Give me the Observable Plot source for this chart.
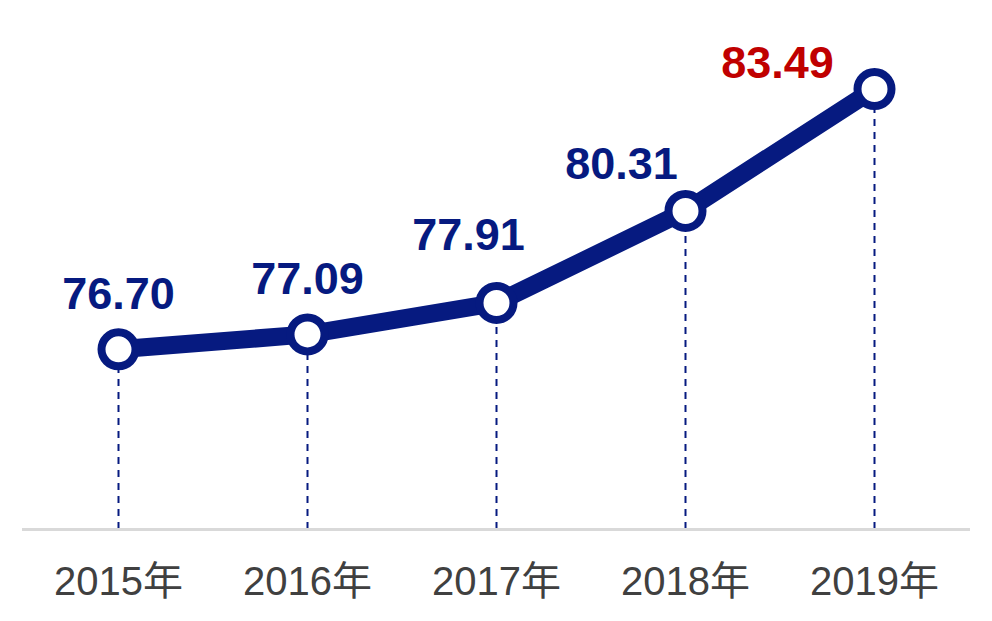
<!DOCTYPE html>
<html>
<head>
<meta charset="utf-8">
<script src="https://cdn.jsdelivr.net/npm/d3@7"></script>
<script src="https://cdn.jsdelivr.net/npm/@observablehq/plot@0.6"></script>
<style>
  html, body { margin: 0; padding: 0; background: #fff; }
  #chart svg { display: block; }
</style>
</head>
<body>
<div id="chart"></div>
<script>
const years = ["2015年", "2016年", "2017年", "2018年", "2019年"];
const values = [76.70, 77.09, 77.91, 80.31, 83.49];
const valueLabels = ["76.70", "77.09", "77.91", "80.31", "83.49"];

const data = years.map((year, i) => ({year, value: values[i], label: valueLabels[i]}));

const navy = "#061a80";
const red = "#c00000";
const font = "'Liberation Sans', Arial, 'Noto Sans CJK SC', sans-serif";

const labelMark = (i, dx, dy, color) => Plot.text([data[i]], {
  x: "year", y: "value", text: "label",
  dx, dy, lineAnchor: "bottom", textAnchor: "middle",
  fill: color, fontSize: 45, fontWeight: "bold", fontFamily: font
});

const chart = Plot.plot({
  width: 992,
  height: 621,
  marginLeft: 22,
  marginRight: 22,
  marginTop: 69,
  marginBottom: 92,
  style: {fontFamily: font, background: "#fff"},
  x: {type: "point", domain: years, padding: 0.5, label: null},
  y: {domain: [72, 84], axis: null},
  marks: [
    Plot.ruleX(data, {x: "year", y1: 72, y2: "value", stroke: navy, strokeWidth: 2, strokeDasharray: "7,6"}),
    Plot.ruleY([72], {stroke: "#d9d9d9", strokeWidth: 3}),
    Plot.axisX({tickSize: 0, tickPadding: 37, fontSize: 40, fill: "#404040", label: null, fontFamily: font}),
    Plot.line(data, {x: "year", y: "value", stroke: navy, strokeWidth: 18, strokeLinejoin: "round"}),
    Plot.dot(data, {x: "year", y: "value", r: 17, fill: "#fff", stroke: navy, strokeWidth: 8}),
    labelMark(0, 0, -40, navy),
    labelMark(1, 0, -40, navy),
    labelMark(2, -28, -53, navy),
    labelMark(3, -64, -32, navy),
    labelMark(4, -97, -11, red)
  ]
});
document.getElementById("chart").appendChild(chart);
</script>
</body>
</html>
